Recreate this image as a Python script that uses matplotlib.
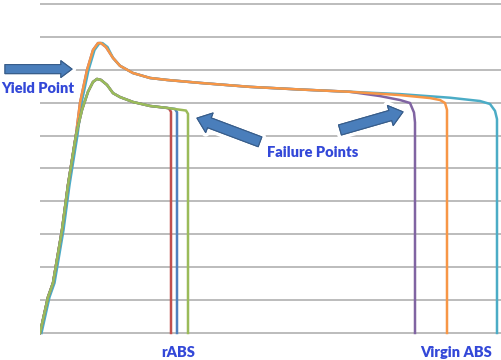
import matplotlib.pyplot as plt
import matplotlib.patheffects as pe
from matplotlib.patches import FancyArrowPatch, ArrowStyle

# stress-strain curves (arbitrary units)
rise_strain = [0.0, 0.8, 1.3, 2.2, 2.8, 3.2, 3.6]
rise_stress = [0.0, 10.9, 15.2, 31.3, 45.0, 52.6, 60.2]

virgin_strain = [4.0, 4.7, 5.3, 5.8, 6.1, 6.6, 7.3, 8.0, 9.3, 11.0, 12.7, 16.0, 21.0, 26.0, 31.0]
virgin_stress = [69.9, 79.9, 86.0, 88.1, 88.1, 86.9, 83.6, 81.2, 79.0, 77.5, 76.9, 76.0, 74.8, 74.0, 73.3]

orange_tail_strain = [36.0, 39.0, 40.0, 40.5, 40.7, 40.7]
orange_tail_stress = [72.3, 71.4, 70.8, 69.9, 67.8, 0.0]
teal_tail_strain = [36.0, 41.0, 44.0, 45.0, 45.5, 45.7, 45.7]
teal_tail_stress = [72.6, 71.5, 70.5, 69.6, 67.5, 65.0, 0.0]
purple_tail_strain = [34.0, 36.0, 37.0, 37.4, 37.5, 37.5]
purple_tail_stress = [72.0, 70.8, 69.9, 67.0, 64.0, 0.0]

rabs_strain = [4.2, 4.8, 5.3, 5.7, 6.1, 6.7, 7.3, 8.0, 9.3, 11.0, 12.7]
rabs_stress = [67.8, 73.3, 76.3, 77.2, 76.9, 75.4, 72.9, 71.7, 70.2, 69.0, 68.4]
rabs_break = {"red": 13.1, "blue": 13.7, "green": 14.8}
rabs_break_stress = {"red": 68.2, "blue": 68.1, "green": 67.6}

colors = {"red": "#C0504D", "blue": "#4F81BD", "green": "#9BBB59",
          "purple": "#8064A2", "teal": "#4BACC6", "orange": "#F79646"}
text_blue = "#3348D8"

fig = plt.figure(figsize=(5.01, 3.60), dpi=100)
ax = fig.add_axes([40 / 501, 0.0705, 1 - 40 / 501, 0.9295])

lw = 1.8
teal_shift = 0.15
for name, ts, tv in [("purple", purple_tail_strain, purple_tail_stress),
                     ("teal", teal_tail_strain, teal_tail_stress),
                     ("orange", orange_tail_strain, orange_tail_stress)]:
    sh = teal_shift if name == "teal" else 0.0
    xs = [s + sh for s in rise_strain + virgin_strain[:6]] + virgin_strain[6:] + ts
    ys = rise_stress + virgin_stress + tv
    ax.plot(xs, ys, color=colors[name], lw=lw, solid_joinstyle="round")

for name in ["red", "blue", "green"]:
    brk = rabs_break[name]
    xs = rise_strain + rabs_strain + [brk - 0.2, brk, brk]
    ys = rise_stress + rabs_stress + [rabs_break_stress[name], rabs_break_stress[name] - 1.0, 0.0]
    ax.plot(xs, ys, color=colors[name], lw=lw, solid_joinstyle="round")

ax.set_xlim(0, 46.1)
ax.set_ylim(-0.5, 101.2)
ax.set_yticks(range(0, 101, 10))
ax.set_xticks([])
ax.grid(axis="y", color="#b0b0b0", lw=1.2)
ax.set_axisbelow(True)
ax.tick_params(length=0, labelleft=False)
for sp in ax.spines.values():
    sp.set_visible(False)

font = dict(family="Lato", weight="heavy", color=text_blue, fontsize=10.5)


def block_arrow(start, end, tail, head_w, head_l):
    style = ArrowStyle("Simple", head_length=head_l, head_width=head_w, tail_width=tail)
    arr = FancyArrowPatch(start, end, arrowstyle=style, mutation_scale=1,
                          shrinkA=0, shrinkB=0, fc="#4A7EBB", ec="#385D8A", lw=0.8,
                          clip_on=False, zorder=5)
    arr.set_path_effects([pe.withStroke(linewidth=6, foreground="white"), pe.Normal()])
    ax.add_patch(arr)


block_arrow((-3.5, 80.2), (3.2, 80.2), 6.5, 12.0, 8.0)
block_arrow((22.0, 58.1), (15.7, 65.3), 7.5, 15.0, 9.5)
block_arrow((30.0, 61.7), (36.3, 67.2), 7.5, 15.0, 9.5)

ax.text(-0.25, 74.2, "Yield Point", ha="center", va="center", clip_on=False, **font)
ax.text(27.3, 54.7, "Failure Points", ha="center", va="center", **font)
ax.text(13.8, -5.8, "rABS", ha="center", va="center", clip_on=False, **font)
ax.text(41.6, -5.8, "Virgin ABS", ha="center", va="center", clip_on=False, **font)

fig.savefig("out.png", dpi=100)
